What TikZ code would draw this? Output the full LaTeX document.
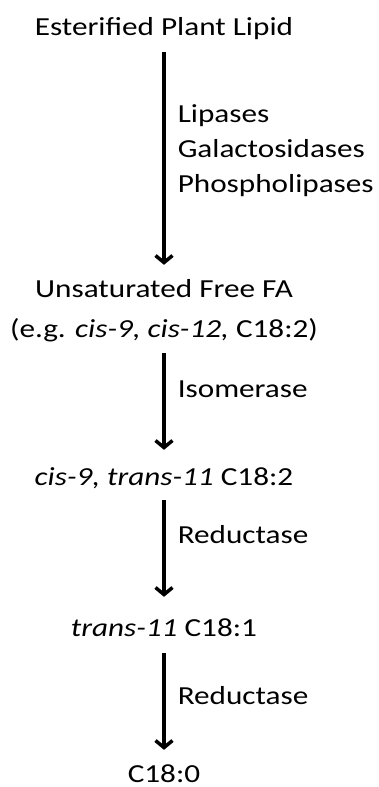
\documentclass[tikz,border=0pt]{standalone}
\usepackage{fontspec}
\setmainfont{Carlito}[FakeStretch=1.2]
\usetikzlibrary{arrows.meta}
\tikzstyle{compound} = [inner sep=0pt, anchor=base, text height=19pt, text depth=6pt]
\tikzstyle{enzyme} = [inner sep=0pt, xshift=12pt, align=left]
\tikzstyle{arrow} = [line width=3.5pt, -{Straight Barb[length=7pt,width=17pt]}]

\begin{document}
\begin{tikzpicture}[x=1pt, y=1pt, font=\fontsize{26}{35}\selectfont]
\useasboundingbox (0,0) rectangle (378,-787);
\node (lipid) [compound] at (164,-35) {Esterified Plant Lipid};
\node (ufa) [compound] at (164,-297) {Unsaturated Free FA};
\node (ufaeg) [compound] at (164,-337) {(e.g. \textit{cis-9, cis-12,} C18:2)};
\node (cla) [compound] at (164,-485) {\textit{cis-9, trans-11} C18:2};
\node (va) [compound] at (164,-636) {\textit{trans-11} C18:1};
\node (sa) [compound] at (164,-782) {C18:0};

\draw [arrow, shorten <=11pt, shorten >=13pt] (lipid) -- node[enzyme, pos=0.464, anchor=west] {Lipases\\Galactosidases\\Phospholipases} (ufa);
\draw [arrow, shorten <=10pt, shorten >=16pt] (ufaeg) -- node[enzyme, pos=0.439, anchor=base west] {Isomerase} (cla);
\draw [arrow, shorten <=9pt, shorten >=20pt] (cla) -- node[enzyme, pos=0.413, anchor=base west] {Reductase} (va);
\draw [arrow, shorten <=11pt, shorten >=13pt] (va) -- node[enzyme, pos=0.516, anchor=base west] {Reductase} (sa);
\end{tikzpicture}
\end{document}
